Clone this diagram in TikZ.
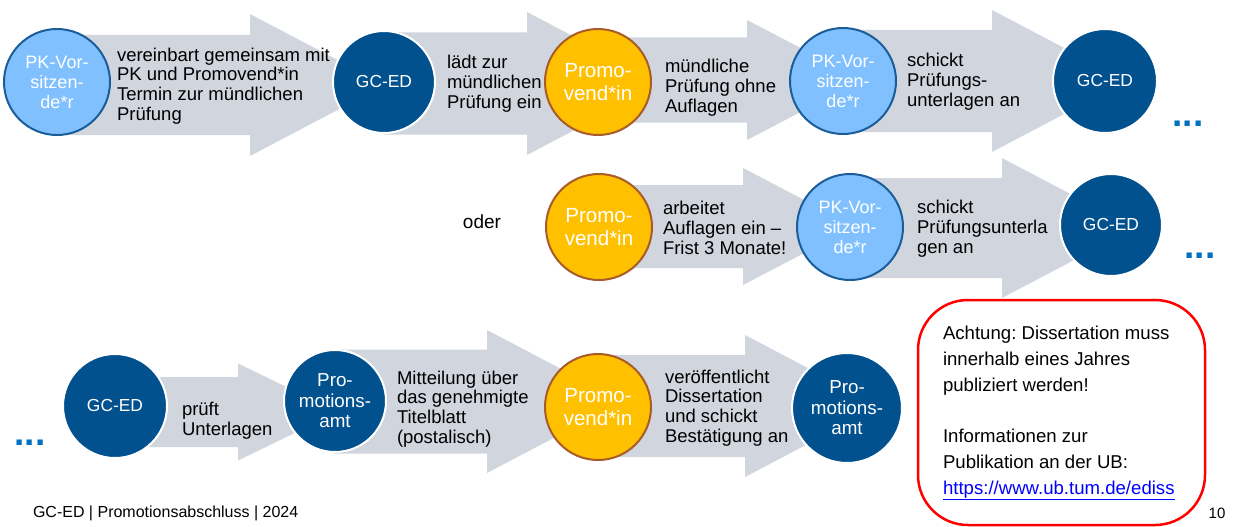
\documentclass[tikz,border=0pt]{standalone}
\usepackage{fontspec}
\setmainfont{Liberation Sans}
\usetikzlibrary{calc}
\frenchspacing
\pgfdeclarelayer{background}
\pgfsetlayers{background,main}
\definecolor{arrowgray}{HTML}{D0D5DE}
\definecolor{lightblue}{HTML}{80C0FF}
\definecolor{lbborder}{HTML}{1B5D9B}
\definecolor{darkblue}{HTML}{02518F}
\definecolor{promofill}{HTML}{FFC000}
\definecolor{promoborder}{HTML}{A85C2A}
\definecolor{dotblue}{HTML}{0070C0}
\definecolor{linkblue}{HTML}{0000FF}
\definecolor{alertred}{HTML}{FF0000}
% #1 from-node, #2 y centre, #3 body half height, #4 head start x, #5 head half height, #6 head length
\newcommand\blockarr[6]{%
  \coordinate (ba-top) at (0,{#2-#3});
  \coordinate (ba-bot) at (0,{#2+#3});
  \fill[arrowgray] (#1.center |- ba-top) -- (#4,{#2-#3}) -- (#4,{#2-#5}) -- ({#4+#6},#2)
     -- (#4,{#2+#5}) -- (#4,{#2+#3}) -- (#1.center |- ba-bot) -- cycle;}
\tikzset{
  every node/.style={inner sep=0pt, outer sep=0pt},
  pkcircle/.style={circle, fill=lightblue, draw=lbborder, line width=2pt, text=white,
    align=center, font=\fontsize{18}{20}\selectfont},
  gccircle/.style={circle, fill=darkblue, draw=white, line width=2pt, text=white,
    align=center, font=\fontsize{17.4}{20}\selectfont},
  amtcircle/.style={circle, fill=darkblue, draw=white, line width=2pt, text=white,
    align=center, font=\fontsize{18.8}{20.5}\selectfont},
  promocircle/.style={circle, fill=promofill, draw=promoborder, line width=2pt, text=white,
    align=center, font=\fontsize{20.5}{23}\selectfont},
  stepnote/.style={anchor=west, align=left, text=black, font=\fontsize{18.5}{19.8}\selectfont},
  dots/.style={text=dotblue, font=\bfseries\fontsize{37}{37}\selectfont, anchor=base},
}
\begin{document}
\begin{tikzpicture}[x=1pt,y=-1pt]
\useasboundingbox (0,0) rectangle (1258,527);

% row 1
\node[pkcircle, minimum size=106] (c1) at (57,82) {PK-Vor-\\sitzen-\\de*r};
\node[gccircle, minimum size=102] (c2) at (384,82) {GC-ED};
\node[promocircle, minimum size=106] (c3) at (598,82) {Promo-\\vend*in};
\node[pkcircle, minimum size=106] (c4) at (843,81) {PK-Vor-\\sitzen-\\de*r};
\node[gccircle, minimum size=104] (c5) at (1105,81) {GC-ED};
\node[dots] (d1) at (1188,126.5) {...};

% row 2
\node[font=\fontsize{19}{22}\selectfont] (oder) at (482,222) {oder};
\node[promocircle, minimum size=106] (c6) at (599,227) {Promo-\\vend*in};
\node[pkcircle, minimum size=106] (c7) at (850,227) {PK-Vor-\\sitzen-\\de*r};
\node[gccircle, minimum size=102] (c8) at (1111,225) {GC-ED};
\node[dots] (d2) at (1200,258.5) {...};

% row 3
\node[dots] (d3) at (30,445.5) {...};
\node[gccircle, minimum size=104] (c9) at (115,406) {GC-ED};
\node[amtcircle, minimum size=102] (c10) at (335,401) {Pro-\\motions-\\amt};
\node[promocircle, minimum size=106] (c11) at (598,407) {Promo-\\vend*in};
\node[amtcircle, minimum size=110] (c12) at (847,408) {Pro-\\motions-\\amt};

% labels on arrows
\node[stepnote] (t1) at (117,86) {vereinbart gemeinsam mit\\PK und Promovend*in\\Termin zur mündlichen\\Prüfung};
\node[stepnote] (t2) at (447,84) {lädt zur\\mündlichen\\Prüfung ein};
\node[stepnote] (t3) at (665,88) {mündliche\\Prüfung ohne\\Auflagen};
\node[stepnote] (t4) at (907,82) {schickt\\Prüfungs-\\unterlagen an};
\node[stepnote] (t5) at (663,228) {arbeitet\\Auflagen ein –\\Frist 3 Monate!};
\node[stepnote] (t6) at (917,229) {schickt\\Prüfungsunterla\\gen an};
\node[stepnote] (t7) at (182,421) {prüft\\Unterlagen};
\node[stepnote] (t8) at (397,409) {Mitteilung über\\das genehmigte\\Titelblatt\\(postalisch)};
\node[stepnote] (t9) at (665,408) {veröffentlicht\\Dissertation\\und schickt\\Bestätigung an};

% white page and block arrows behind the circles
\begin{pgfonlayer}{background}
\fill[white] (0,0) rectangle (1258,527);
\blockarr{c1}{85}{50}{250}{71}{135}
\blockarr{c2}{83.5}{51}{527}{71.5}{136}
\blockarr{c3}{80}{42.5}{747}{60}{115}
\blockarr{c4}{81}{51}{992}{71}{135}
\blockarr{c6}{226.5}{41.5}{743}{58.5}{112}
\blockarr{c7}{228}{50}{1002}{70}{133}
\blockarr{c9}{412}{35}{238}{48.5}{100}
\blockarr{c10}{401.5}{52}{487}{71.5}{136}
\blockarr{c11}{406}{51}{745}{71}{135}
\end{pgfonlayer}

% note box
\draw[alertred, line width=2.5pt, rounded corners=50pt] (918,300) rectangle (1205,525);
\node[anchor=north west, align=left, font=\fontsize{18.6}{25.7}\selectfont] (note) at (943,326.5)
  {Achtung: Dissertation muss\\innerhalb eines Jahres\\publiziert werden!\\[25.7pt]Informationen zur\\Publikation an der UB:\\\textcolor{linkblue}{\underline{https://www.ub.tum.de/ediss}}};

% footer
\node[anchor=west, font=\fontsize{16}{18}\selectfont] (footer) at (33,513) {GC-ED | Promotionsabschluss | 2024};
\node[font=\fontsize{15}{17}\selectfont] (page) at (1217,513) {10};
\end{tikzpicture}
\end{document}
